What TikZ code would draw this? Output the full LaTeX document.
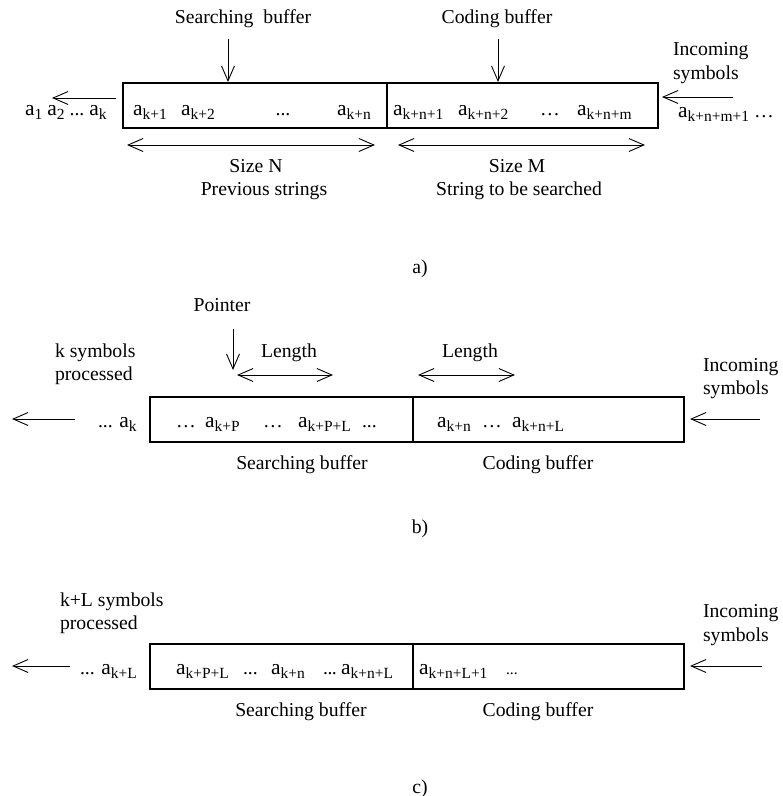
\documentclass[tikz,border=0pt]{standalone}
\usepackage{fontspec}
\setmainfont{Liberation Serif}
\usetikzlibrary{arrows.meta}
\newcommand\mysub[1]{\raisebox{-4.5pt}{\fontsize{15.5}{15.5}\selectfont #1}}
\newcommand\mysmall[1]{{\fontsize{15.5}{15.5}\selectfont #1}}
\newcommand\av{{\fontsize{21.5}{24}\selectfont a}}
\tikzset{
  txt/.style={inner sep=0pt, outer sep=0pt, anchor=base west},
  ctxt/.style={inner sep=0pt, outer sep=0pt, anchor=base},
  buf/.style={draw, line width=1.6pt, inner sep=0pt, outer sep=0pt, anchor=north west, minimum height=45pt},
  barb/.tip={Straight Barb[length=15pt,width=13pt]},
  arr/.style={line width=0.9pt, -barb},
  darr/.style={line width=0.9pt, barb-barb},
}
\begin{document}
\begin{tikzpicture}[x=1pt,y=-1pt,font=\fontsize{19.7}{23.5}\selectfont]
\useasboundingbox (0,0) rectangle (783,796);
% ================= a) =================
\node[buf, minimum width=264pt] (sa) at (123,83) {};
\node[buf, minimum width=271pt] (ca) at (387,83) {};
\node[ctxt] (sat) at (243,23) {Searching\ \ buffer};
\node[ctxt] (cat) at (497,23) {Coding buffer};
\coordinate (sa1) at (228,39); \coordinate (sa2) at (228,82);
\coordinate (ca1) at (498,39); \coordinate (ca2) at (498,82);
\draw[arr] (sa1) -- (sa2);
\draw[arr] (ca1) -- (ca2);
\node[txt] (ain1) at (673,55) {Incoming};
\node[txt] (ain2) at (673,79) {symbols};
\coordinate (ai1) at (733,97); \coordinate (ai2) at (662,97);
\draw[arr] (ai1) -- (ai2);
\coordinate (ao1) at (116,98); \coordinate (ao2) at (52,98);
\draw[arr] (ao1) -- (ao2);
\node[txt] (aout) at (25,115) {\av\mysub{1}\hspace{5pt}\av\mysub{2}\hspace{5pt}...\hspace{5pt}\av\mysub{k}};
\node[txt] (a1) at (133,115) {\av\mysub{k+1}};
\node[txt] (a2) at (181,115) {\av\mysub{k+2}};
\node[ctxt] (a3) at (283,115) {...};
\node[txt] (a4) at (337,115) {\av\mysub{k+n}};
\node[txt] (a5) at (393,115) {\av\mysub{k+n+1}};
\node[txt] (a6) at (458,115) {\av\mysub{k+n+2}};
\node[ctxt] (a7) at (550,115) {…};
\node[txt] (a8) at (577,115) {\av\mysub{k+n+m}};
\node[txt] (a9) at (678,117) {\av\mysub{k+n+m+1} …};
\coordinate (sn1) at (127,145); \coordinate (sn2) at (375,145);
\coordinate (sm1) at (398,145); \coordinate (sm2) at (645,145);
\draw[darr] (sn1) -- (sn2);
\draw[darr] (sm1) -- (sm2);
\node[ctxt] (szn) at (256,172) {Size N};
\node[ctxt] (prv) at (264,195) {Previous strings};
\node[ctxt] (szm) at (517,172) {Size M};
\node[ctxt] (stb) at (519,195) {String to be searched};
\node[ctxt] (capa) at (420,273) {a)};
% ================= b) =================
\node[buf, minimum width=263pt] (sb) at (150,397) {};
\node[buf, minimum width=271pt] (cb) at (413,397) {};
\node[ctxt] (ptr) at (222,311) {Pointer};
\coordinate (pb1) at (233,329); \coordinate (pb2) at (233,370);
\draw[arr] (pb1) -- (pb2);
\node[ctxt] (len1) at (289,357) {Length};
\coordinate (l11) at (237,375); \coordinate (l12) at (333,375);
\draw[darr] (l11) -- (l12);
\node[ctxt] (len2) at (470,357) {Length};
\coordinate (l21) at (418,375); \coordinate (l22) at (515,375);
\draw[darr] (l21) -- (l22);
\node[txt] (kp1) at (55,357) {k symbols};
\node[txt] (kp2) at (55,380) {processed};
\coordinate (bo1) at (75,419); \coordinate (bo2) at (12,419);
\draw[arr] (bo1) -- (bo2);
\node[txt] (bout) at (98,427) {... \av\mysub{k}};
\node[txt] (b1) at (176,427) {…};
\node[txt] (b2) at (205,427) {\av\mysub{k+P}};
\node[txt] (b3) at (263,427) {…};
\node[txt] (b4) at (298,427) {\av\mysub{k+P+L}};
\node[txt] (b5) at (362,427) {...};
\node[txt] (b6) at (437,427) {\av\mysub{k+n}};
\node[txt] (b7) at (482,427) {…};
\node[txt] (b8) at (512,427) {\av\mysub{k+n+L}};
\node[ctxt] (sbt) at (302,469) {Searching buffer};
\node[ctxt] (cbt) at (538,469) {Coding buffer};
\node[txt] (bin1) at (703,371) {Incoming};
\node[txt] (bin2) at (703,394) {symbols};
\coordinate (bi1) at (760,419); \coordinate (bi2) at (690,419);
\draw[arr] (bi1) -- (bi2);
\node[ctxt] (capb) at (420,533) {b)};
% ================= c) =================
\node[buf, minimum width=263pt] (sc) at (150,644) {};
\node[buf, minimum width=271pt] (cc) at (413,644) {};
\node[txt] (kl1) at (60,606) {k+L symbols};
\node[txt] (kl2) at (60,629) {processed};
\coordinate (co1) at (70,666); \coordinate (co2) at (12,666);
\draw[arr] (co1) -- (co2);
\node[txt] (cout) at (80,674) {... \av\mysub{k+L}};
\node[txt] (c1) at (176,674) {\av\mysub{k+P+L}};
\node[txt] (c2) at (243,674) {...};
\node[txt] (c3) at (271,674) {\av\mysub{k+n}};
\node[ctxt] (c4) at (330,674) {.\kern-0.5pt.\kern-0.5pt.};
\node[txt] (c5) at (341,674) {\av\mysub{k+n+L}};
\node[txt] (c6) at (419,674) {\av\mysub{k+n+L+1}};
\node[txt] (c7) at (506,674) {\mysmall{...}};
\node[ctxt] (sct) at (301,716) {Searching buffer};
\node[ctxt] (cct) at (538,716) {Coding buffer};
\node[txt] (cin1) at (703,617) {Incoming};
\node[txt] (cin2) at (703,641) {symbols};
\coordinate (ci1) at (762,666); \coordinate (ci2) at (690,666);
\draw[arr] (ci1) -- (ci2);
\node[ctxt] (capc) at (420,793) {c)};
\end{tikzpicture}
\end{document}
